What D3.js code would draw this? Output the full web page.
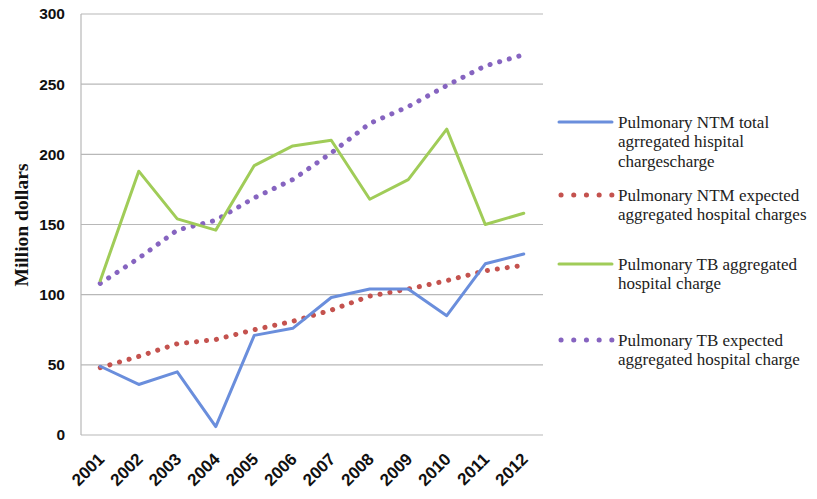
<!DOCTYPE html>
<html>
<head>
<meta charset="utf-8">
<script src="https://cdn.jsdelivr.net/npm/d3@7"></script>
<style>
  body { margin: 0; background: #fff; }
  svg { display: block; }
</style>
</head>
<body>
<div id="chart"></div>
<script>
const years = ['2001', '2002', '2003', '2004', '2005', '2006', '2007', '2008', '2009', '2010', '2011', '2012'];
const ntmTotal = [49, 36, 45, 6, 71, 76, 98, 104, 104, 85, 122, 129];
const ntmExpected = [48, 56, 65, 68, 75, 81, 89, 99, 104, 110, 117, 121];
const tbTotal = [110, 188, 154, 146, 192, 206, 210, 168, 182, 218, 150, 158];
const tbExpected = [108, 126, 146, 153, 169, 182, 201, 222, 234, 249, 263, 271];
const yTicks = [0, 50, 100, 150, 200, 250, 300];

const legendItems = [
    {lines: ['Pulmonary NTM total', 'agrregated hispital', 'chargescharge'], color: '#6a8edc', dotted: false},
    {lines: ['Pulmonary NTM expected', 'aggregated hospital charges'], color: '#c4524e', dotted: true},
    {lines: ['Pulmonary TB aggregated', 'hospital charge'], color: '#a0cc58', dotted: false},
    {lines: ['Pulmonary TB expected', 'aggregated hospital charge'], color: '#8664c0', dotted: true}
];

const width = 817, height = 499;
const margin = {top: 14, left: 81, right: 274, bottom: 64};

const svg = d3.select('#chart')
    .append('svg')
    .attr('width', width)
    .attr('height', height);

const x = d3.scalePoint()
    .domain(years)
    .range([margin.left, width - margin.right])
    .padding(0.5);

const y = d3.scaleLinear()
    .domain([0, 300])
    .range([height - margin.bottom, margin.top]);

// gridlines
svg.append('g')
    .selectAll('line')
    .data(yTicks)
    .enter()
    .append('line')
    .attr('x1', margin.left)
    .attr('x2', width - margin.right)
    .attr('y1', d => y(d))
    .attr('y2', d => y(d))
    .attr('stroke', '#b8b8b8')
    .attr('stroke-width', 1.2);

// left axis line
svg.append('line')
    .attr('x1', margin.left)
    .attr('x2', margin.left)
    .attr('y1', y(300))
    .attr('y2', y(0))
    .attr('stroke', '#b8b8b8')
    .attr('stroke-width', 1.2);

// y tick labels
svg.append('g')
    .selectAll('text')
    .data(yTicks)
    .enter()
    .append('text')
    .attr('x', 65)
    .attr('y', d => y(d))
    .attr('dy', '0.35em')
    .attr('text-anchor', 'end')
    .style('font-family', 'Liberation Sans, Arial, sans-serif')
    .style('font-weight', 'bold')
    .style('font-size', '15.5px')
    .attr('fill', '#111')
    .text(d => d);

// y axis title
svg.append('text')
    .attr('transform', 'translate(28, 225) rotate(-90)')
    .attr('text-anchor', 'middle')
    .style('font-family', 'Liberation Serif, Times New Roman, serif')
    .style('font-weight', 'bold')
    .style('font-size', '19.5px')
    .attr('fill', '#111')
    .text('Million dollars');

// x tick labels
svg.append('g')
    .selectAll('text')
    .data(years)
    .enter()
    .append('text')
    .attr('transform', d => `translate(${ x(d) + 1 }, ${ y(0) + 21 }) rotate(-45)`)
    .attr('text-anchor', 'end')
    .attr('dy', '0.35em')
    .style('font-family', 'Liberation Sans, Arial, sans-serif')
    .style('font-weight', 'bold')
    .style('font-size', '17px')
    .attr('fill', '#111')
    .text(d => d);

const line = d3.line()
    .x((d, i) => x(years[i]))
    .y(d => y(d));

const series = [
    {values: tbExpected, item: legendItems[3]},
    {values: ntmExpected, item: legendItems[1]},
    {values: tbTotal, item: legendItems[2]},
    {values: ntmTotal, item: legendItems[0]}
];

series.forEach(s => {
    svg.append('path')
        .datum(s.values)
        .attr('d', line)
        .attr('fill', 'none')
        .attr('stroke', s.item.color)
        .attr('stroke-width', s.item.dotted ? 5 : 3)
        .attr('stroke-linecap', 'round')
        .attr('stroke-linejoin', 'round')
        .attr('stroke-dasharray', s.item.dotted ? '0.1 9.9' : null);
});

// legend
const legendY = [122, 195, 264, 340];
const legend = svg.append('g');

legendItems.forEach((item, i) => {
    const g = legend.append('g')
        .attr('transform', `translate(0, ${ legendY[i] })`);

    g.append('line')
        .attr('x1', item.dotted ? 561 : 559)
        .attr('x2', 612)
        .attr('y1', 0)
        .attr('y2', 0)
        .attr('stroke', item.color)
        .attr('stroke-width', item.dotted ? 5 : 3)
        .attr('stroke-linecap', 'round')
        .attr('stroke-dasharray', item.dotted ? '0.1 12.6' : null);

    g.selectAll('text')
        .data(item.lines)
        .enter()
        .append('text')
        .attr('x', 618)
        .attr('y', (d, j) => j * 19.5)
        .attr('dy', '0.35em')
        .style('font-family', 'Liberation Serif, serif')
        .style('font-size', '17px')
        .attr('fill', '#222')
        .text(d => d);
});
</script>
</body>
</html>
